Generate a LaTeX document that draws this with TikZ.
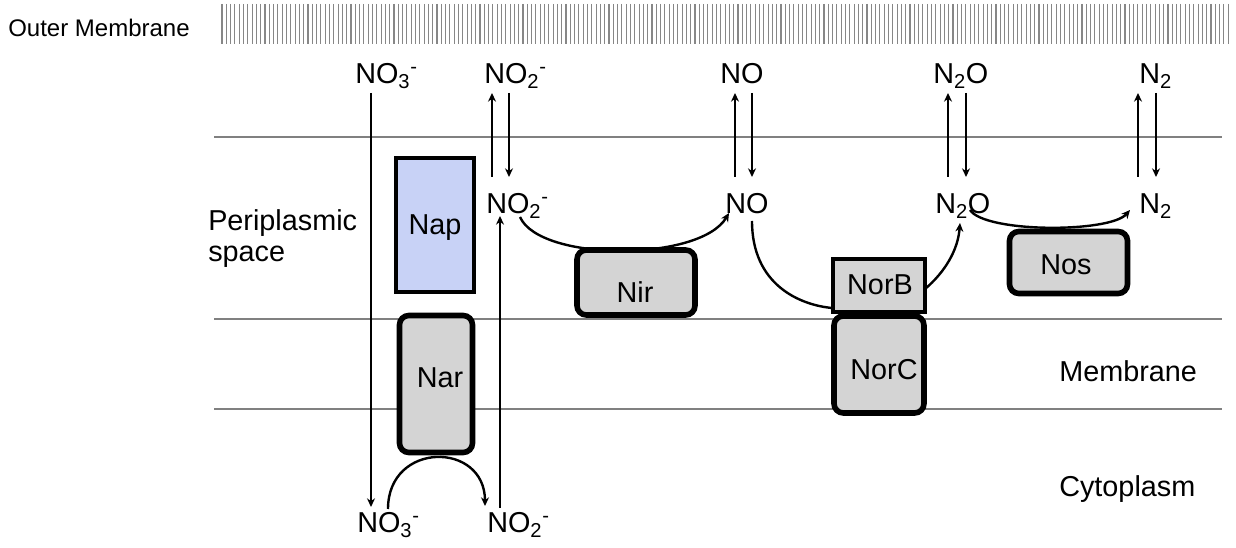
\documentclass[tikz,border=0pt]{standalone}
\usepackage{fontspec}
\setmainfont{Liberation Sans}
\usetikzlibrary{arrows.meta}
\definecolor{membranegray}{RGB}{128,128,128}
\definecolor{hatchgray}{RGB}{135,135,135}
\definecolor{protgray}{RGB}{212,212,212}
\definecolor{napblue}{RGB}{200,210,246}
\begin{document}
\begin{tikzpicture}[x=0.75pt,y=-0.75pt,
  lbl/.style={font=\fontsize{21.6}{26}\selectfont, inner sep=0pt, anchor=base west},
  chem/.style={lbl},
  boxlbl/.style={font=\fontsize{21.6}{26}\selectfont, inner sep=0pt, anchor=base},
  protein/.style={draw, line width=4.2pt, fill=protgray, rounded corners=7pt, inner sep=0pt},
  subunit/.style={draw, line width=2.6pt, inner sep=0pt},
  arr/.style={line width=1.8pt, -{Stealth[length=6.5pt,width=6pt]}},
  memline/.style={draw=membranegray, line width=1.5pt}]
\useasboundingbox[fill=white] (0,0) rectangle (1236,548);

% outer membrane, drawn as a band of thin vertical strokes
\node[inner sep=0pt, anchor=base west, font=\fontsize{18}{22}\selectfont] (outer) at (8,37) {Outer Membrane};
\foreach \i in {0,...,234} {
  \pgfmathsetmacro\xx{222+4.3*\i}
  \draw[hatchgray, line width=0.85pt] (\xx,4) -- (\xx,44);
}

% inner membrane boundaries
\draw[memline] (214,137) -- (1222,137);
\draw[memline] (214,319) -- (1222,319);
\draw[memline] (214,409) -- (1222,409);

% compartment labels
\node[lbl] (peri1) at (208,231) {Periplasmic};
\node[lbl] (peri2) at (208,262) {space};
\node[lbl] (memb) at (1059,382) {Membrane};
\node[lbl] (cyto) at (1059,497) {Cytoplasm};

% enzymes
\node[subunit, fill=napblue, minimum width=58.5pt, minimum height=100.5pt] (nap) at (435,225) {};
\node[protein, minimum width=54.75pt, minimum height=102.75pt] (nar) at (436,384) {};
\node[protein, minimum width=88.5pt, minimum height=48.75pt] (nir) at (636,282.5) {};
\node[protein, minimum width=67.5pt, minimum height=72.75pt] (norc) at (879,364.5) {};
\node[subunit, fill=protgray, minimum width=69pt, minimum height=39.75pt] (norb) at (879,285.5) {};
\node[protein, minimum width=88.5pt, minimum height=46.5pt] (nos) at (1068.5,262.5) {};

\node[boxlbl] (napl) at (435,235) {Nap};
\node[boxlbl] (narl) at (440,388) {Nar};
\node[boxlbl] (nirl) at (635,303) {Nir};
\node[boxlbl] (norbl) at (880,295) {NorB};
\node[boxlbl] (norcl) at (884,380) {NorC};
\node[boxlbl] (nosl) at (1066,275) {Nos};

% species outside the cell
\node[chem] (no3top) at (355,84) {NO\textsubscript{3}\textsuperscript{-}};
\node[chem] (no2top) at (484,84) {NO\textsubscript{2}\textsuperscript{-}};
\node[chem] (notop) at (720,84) {NO};
\node[chem] (n2otop) at (933,84) {N\textsubscript{2}O};
\node[chem] (n2top) at (1139,84) {N\textsubscript{2}};
% species in the periplasm
\node[chem] (no2mid) at (486,214) {NO\textsubscript{2}\textsuperscript{-}};
\node[chem] (nomid) at (725,214) {NO};
\node[chem] (n2omid) at (935,214) {N\textsubscript{2}O};
\node[chem] (n2mid) at (1139,214) {N\textsubscript{2}};
% species in the cytoplasm
\node[chem] (no3bot) at (357,533) {NO\textsubscript{3}\textsuperscript{-}};
\node[chem] (no2bot) at (487,533) {NO\textsubscript{2}\textsuperscript{-}};

% connector end points
\foreach \n/\x/\y in {
  no3a/371/93, no3b/371/507,
  no2ba/500/508, no2bb/500/216,
  no2ua/492/177, no2ub/492/93, no2da/509/93, no2db/509/177,
  noua/735/177, noub/735/93, noda/752/93, nodb/752/177,
  n2oua/948/177, n2oub/948/93, n2oda/966/93, n2odb/966/177,
  n2ua/1138/177, n2ub/1138/93, n2da/1156/93, n2db/1156/177,
  narin/388/509, narout/485/506,
  nirin/520/217, nirout/729/213,
  norin/752/221, norbin/832/308, norbout/925/289, norout/960/223,
  nosin/970/210, nosout/1130/210}
  \coordinate (\n) at (\x,\y);

% transport across the membranes
\draw[arr] (no3a) -- (no3b);
\draw[arr] (no2ba) -- (no2bb);
\draw[arr] (no2ua) -- (no2ub);
\draw[arr] (no2da) -- (no2db);
\draw[arr] (noua) -- (noub);
\draw[arr] (noda) -- (nodb);
\draw[arr] (n2oua) -- (n2oub);
\draw[arr] (n2oda) -- (n2odb);
\draw[arr] (n2ua) -- (n2ub);
\draw[arr] (n2da) -- (n2db);

% reduction steps
\draw[arr] (narin) .. controls (388,441) and (485,441) .. (narout);
\draw[arr] (nirin) .. controls (540,262) and (700,262) .. (nirout);
\draw[line width=1.8pt] (norin) .. controls (752,285) and (800,305) .. (norbin);
\draw[arr] (norbout) .. controls (945,272) and (958,250) .. (norout);
\draw[arr] (nosin) .. controls (985,233) and (1110,233) .. (nosout);
\end{tikzpicture}
\end{document}
